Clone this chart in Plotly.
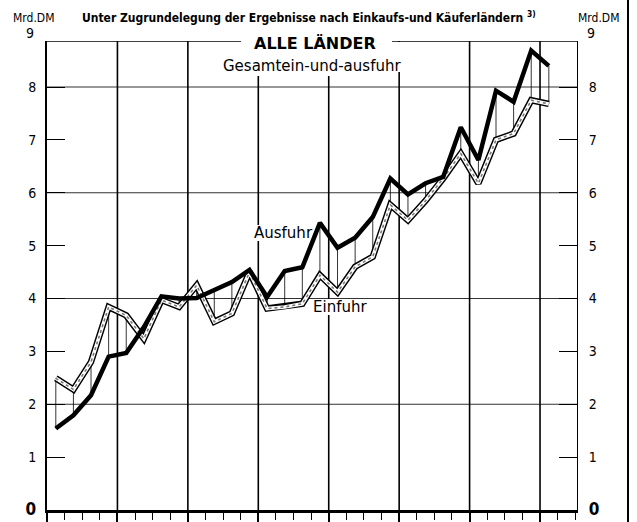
import plotly.graph_objects as go

# Quarterly values, 1950 Q1 .. 1957 Q1 (Mrd. DM)
quarters = [f"{y} Q{q}" for y in range(1950, 1958) for q in range(1, 5)][:29]
ausfuhr = [1.54, 1.79, 2.17, 2.90, 2.97, 3.46, 4.04, 4.00, 4.01, 4.15, 4.31, 4.54,
           4.03, 4.52, 4.59, 5.43, 4.96, 5.15, 5.54, 6.27, 5.97, 6.18, 6.30, 7.24,
           6.62, 7.93, 7.72, 8.69, 8.40]
einfuhr = [2.49, 2.28, 2.80, 3.84, 3.68, 3.24, 3.97, 3.84, 4.25, 3.56, 3.72, 4.50,
           3.81, 3.84, 3.90, 4.44, 4.12, 4.60, 4.79, 5.77, 5.48, 5.85, 6.27, 6.74,
           6.18, 7.00, 7.12, 7.75, 7.68]
y_ticks = list(range(0, 9))
grid_levels = [2, 4, 6, 8]
year_starts = list(range(4, 29, 4))   # quarter index where each new year begins
Y_TOP = 8.87

W, H = 637, 522
L, R, T, B = 47, 60, 41, 12
PW, PH = W - L - R, H - T - B

def px(x):
    return (x - L) / PW

def py(y):
    return (H - B - y) / PH

xpos = [i + 0.5 for i in range(len(quarters))]

fig = go.Figure()

# drop lines between the two series
dx, dy = [], []
for x, a, e in zip(xpos, ausfuhr, einfuhr):
    dx += [x, x, None]
    dy += [e, a, None]
fig.add_trace(go.Scatter(x=dx, y=dy, mode="lines", line=dict(color="black", width=0.8),
                         hoverinfo="skip", showlegend=False))

# Einfuhr: hatched double line
fig.add_trace(go.Scatter(x=xpos, y=einfuhr, mode="lines", line=dict(color="black", width=6.5),
                         showlegend=False, name="Einfuhr"))
fig.add_trace(go.Scatter(x=xpos, y=einfuhr, mode="lines", line=dict(color="white", width=3.6),
                         showlegend=False, hoverinfo="skip"))
fig.add_trace(go.Scatter(x=xpos, y=einfuhr, mode="lines",
                         line=dict(color="#777", width=1.6, dash="dot"),
                         showlegend=False, hoverinfo="skip"))
# Ausfuhr: heavy black line
fig.add_trace(go.Scatter(x=xpos, y=ausfuhr, mode="lines", line=dict(color="black", width=4.5),
                         showlegend=False, name="Ausfuhr"))
# invisible trace for the right axis
fig.add_trace(go.Scatter(x=[xpos[0]], y=[ausfuhr[0]], yaxis="y2", mode="markers",
                         marker=dict(opacity=0), showlegend=False, hoverinfo="skip"))

ticktext = [("<b><span style='font-size:17px'>0</span></b>" if v == 0 else str(v)) for v in y_ticks]
yax = dict(range=[0, Y_TOP], tickvals=y_ticks, ticktext=ticktext, ticks="inside", ticklen=18,
           tickwidth=1, tickcolor="black", showgrid=False, zeroline=False,
           showline=True, linecolor="black", fixedrange=True, automargin=False,
           tickfont=dict(family="DejaVu Sans Condensed", size=14, color="black"))

fig.update_layout(
    width=W, height=H,
    margin=dict(l=L, r=R, t=T, b=B, autoexpand=False),
    paper_bgcolor="white", plot_bgcolor="white",
    xaxis=dict(range=[0, 30.1], tickvals=[0] + year_starts, showticklabels=False,
               ticks="outside", ticklen=12, tickwidth=1.5, tickcolor="black",
               showgrid=False, zeroline=False,
               showline=True, linecolor="black", linewidth=2.5, automargin=False,
               minor=dict(dtick=1, tick0=0, ticks="outside", ticklen=7, tickwidth=1,
                          tickcolor="black", showgrid=False)),
    yaxis=dict(**yax, side="left", linewidth=2, ticklabelstandoff=6),
    yaxis2=dict(**yax, side="right", overlaying="y", linewidth=1, ticklabelstandoff=8),
)

def white_box(x0, x1, y0, y1, layer):
    return dict(type="rect", xref="paper", yref="paper", x0=px(x0), x1=px(x1),
                y0=py(y1), y1=py(y0), fillcolor="white", line=dict(width=0), layer=layer)

shapes = []
for g in grid_levels:
    shapes.append(dict(type="line", xref="paper", yref="y", x0=0, x1=1, y0=g, y1=g,
                       line=dict(color="#333", width=1), layer="below"))
shapes.append(dict(type="line", xref="paper", yref="y", x0=0, x1=1, y0=Y_TOP, y1=Y_TOP,
                   line=dict(color="black", width=1.3), layer="below"))
for q in year_starts:
    shapes.append(dict(type="line", xref="x", yref="paper", x0=q, x1=q, y0=0, y1=1,
                       line=dict(color="black", width=1.6), layer="below"))
shapes += [
    # gaps behind the heading
    white_box(241, 392, 30, 76, "below"),
    white_box(392, 405, 42, 72, "below"),
    # gaps behind the series labels (under the lines)
    white_box(252, 313, 225, 241, "below"),
    white_box(311, 369, 299, 315, "below"),
    # outer frame on the right
    dict(type="line", xref="paper", yref="paper", x0=px(628), x1=px(628), y0=py(522), y1=py(0),
         line=dict(color="black", width=2)),
]
fig.update_layout(shapes=shapes)

cond = "DejaVu Sans Condensed, Liberation Sans Narrow, sans-serif"
tickfont = dict(family="DejaVu Sans Condensed", size=14)
ann = [
    dict(text="<b>Unter Zugrundelegung der Ergebnisse nach Einkaufs-und Käuferländern <sup>3)</sup></b>",
         x=px(309), y=py(17), font=dict(family=cond, size=12)),
    dict(text="Mrd.DM", x=px(33), y=py(18), font=dict(family=cond, size=12)),
    dict(text="Mrd.DM", x=px(598), y=py(18), font=dict(family=cond, size=12)),
    dict(text="9", x=px(30), y=py(33), font=dict(tickfont)),
    dict(text="9", x=px(591), y=py(33), font=dict(tickfont)),
    dict(text="<b>ALLE LÄNDER</b>", x=px(315), y=py(43), font=dict(family="DejaVu Sans", size=16)),
    dict(text="Gesamtein-und-ausfuhr", x=px(312), y=py(66), font=dict(family="DejaVu Sans", size=15)),
    dict(text="Ausfuhr", x=px(283), y=py(233), font=dict(family="DejaVu Sans", size=15)),
    dict(text="Einfuhr", x=px(340), y=py(307), font=dict(family="DejaVu Sans", size=15)),
]
for a in ann:
    a.update(xref="paper", yref="paper", showarrow=False, xanchor="center", yanchor="middle")
    a["font"]["color"] = "black"
fig.update_layout(annotations=ann)

fig.write_html("out.html", config={"displayModeBar": False},
               post_script="document.body.style.margin='0';")
